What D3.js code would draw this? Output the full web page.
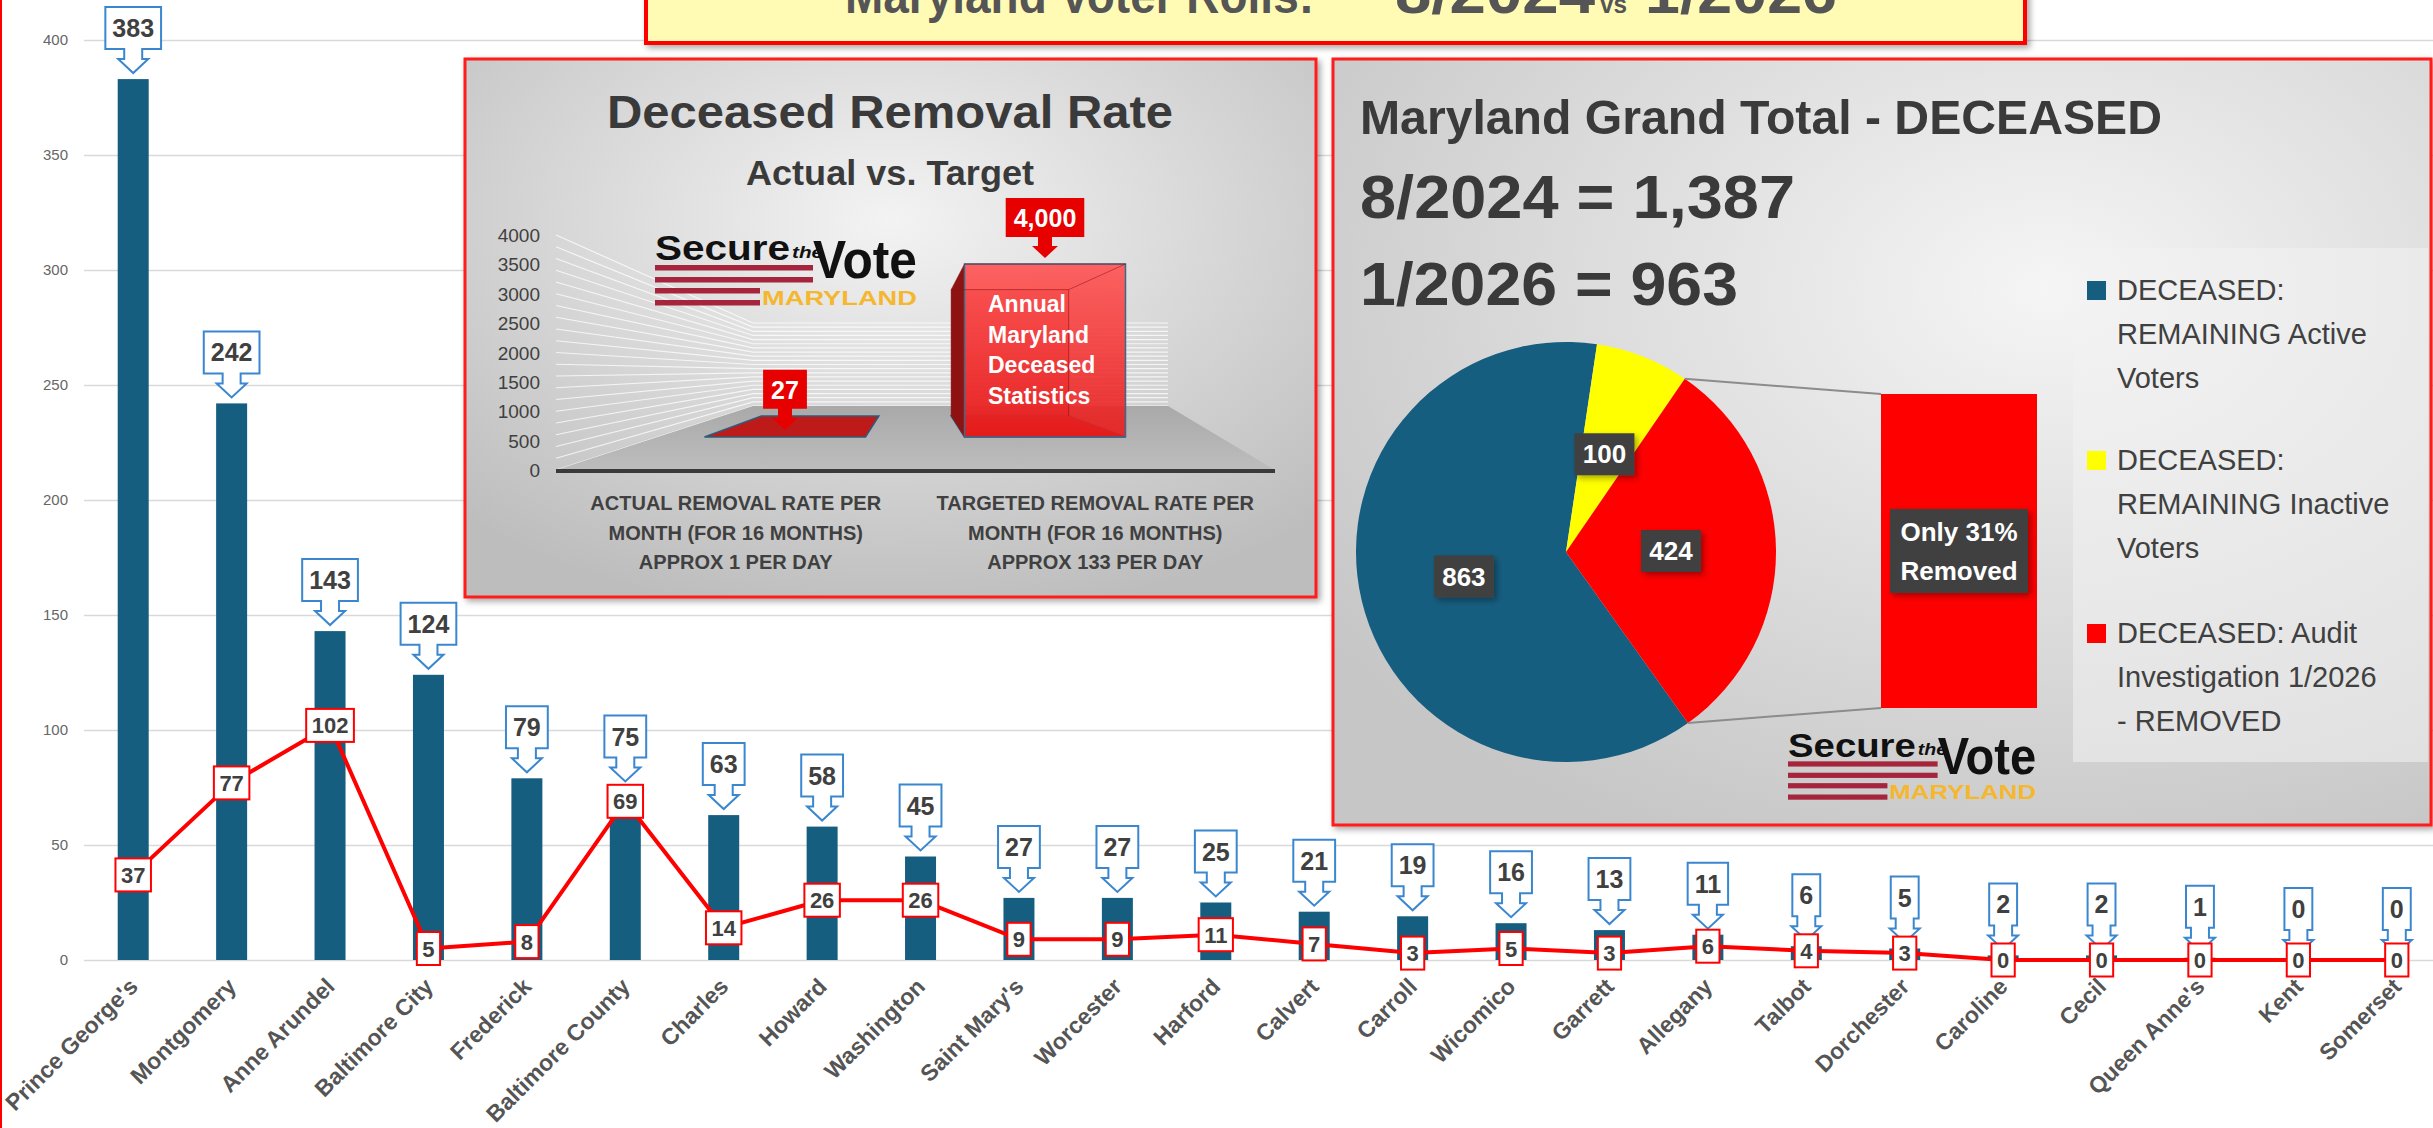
<!DOCTYPE html>
<meta charset="utf-8">
<style>
  body { margin: 0; background: #fff; }
  svg { display: block; font-family: "Liberation Sans", Arial, sans-serif; }
</style>
<body>
<script src="https://d3js.org/d3.v7.min.js"></script>
<script>
var counties = ["Prince George's", "Montgomery", "Anne Arundel", "Baltimore City", "Frederick",
  "Baltimore County", "Charles", "Howard", "Washington", "Saint Mary's", "Worcester", "Harford",
  "Calvert", "Carroll", "Wicomico", "Garrett", "Allegany", "Talbot", "Dorchester", "Caroline",
  "Cecil", "Queen Anne's", "Kent", "Somerset"];
var deceased2024 = [383, 242, 143, 124, 79, 75, 63, 58, 45, 27, 27, 25, 21, 19, 16, 13, 11, 6, 5, 2, 2, 1, 0, 0];
var remaining2026 = [37, 77, 102, 5, 8, 69, 14, 26, 26, 9, 9, 11, 7, 3, 5, 3, 6, 4, 3, 0, 0, 0, 0, 0];
var yTicks = [0, 50, 100, 150, 200, 250, 300, 350, 400];

var rateCategories = ["ACTUAL", "TARGET"];
var rateLabels = [["ACTUAL REMOVAL RATE PER", "MONTH (FOR 16 MONTHS)", "APPROX 1 PER DAY"],
                  ["TARGETED REMOVAL RATE PER", "MONTH (FOR 16 MONTHS)", "APPROX 133 PER DAY"]];
var rateValues = [27, 4000];
var rateValueLabels = ["27", "4,000"];
var rateTicks = [0, 500, 1000, 1500, 2000, 2500, 3000, 3500, 4000];
var targetNote = ["Annual", "Maryland", "Deceased", "Statistics"];

var pieValues = [863, 100, 424];
var pieColors = ["#165e80", "#ffff00", "#ff0000"];
var pieLegend = [["DECEASED:", "REMAINING Active", "Voters"],
                 ["DECEASED:", "REMAINING Inactive", "Voters"],
                 ["DECEASED: Audit", "Investigation 1/2026", "- REMOVED"]];
var totalLines = ["Maryland Grand Total - DECEASED", "8/2024 = 1,387", "1/2026 = 963"];
var removedNote = ["Only 31%", "Removed"];

var W = 2433, H = 1128;
var svg = d3.select('body').append('svg').attr('width', W).attr('height', H);
var defs = svg.append('defs');

var gl = defs.append('radialGradient').attr('id', 'gradL').attr('cx', '50%').attr('cy', '30%').attr('r', '75%');
gl.append('stop').attr('offset', '0%').attr('stop-color', '#f3f3f3');
gl.append('stop').attr('offset', '100%').attr('stop-color', '#bdbdbd');
var gr = defs.append('radialGradient').attr('id', 'gradR').attr('cx', '65%').attr('cy', '30%').attr('r', '80%');
gr.append('stop').attr('offset', '0%').attr('stop-color', '#f5f5f5');
gr.append('stop').attr('offset', '100%').attr('stop-color', '#c6c6c6');
var gf = defs.append('linearGradient').attr('id', 'floor').attr('x1', 0).attr('x2', 0).attr('y1', 0).attr('y2', 1);
gf.append('stop').attr('offset', '0%').attr('stop-color', '#a9a9a9');
gf.append('stop').attr('offset', '100%').attr('stop-color', '#bdbdbd');
var gb = defs.append('linearGradient').attr('id', 'barRed').attr('x1', 0).attr('x2', 0).attr('y1', 0).attr('y2', 1);
gb.append('stop').attr('offset', '0%').attr('stop-color', '#ff5353');
gb.append('stop').attr('offset', '100%').attr('stop-color', '#e81b1b');
var sh = defs.append('filter').attr('id', 'shadow').attr('x', '-20%').attr('y', '-20%').attr('width', '150%').attr('height', '150%');
sh.append('feDropShadow').attr('dx', 3).attr('dy', 3).attr('stdDeviation', 3).attr('flood-color', '#000').attr('flood-opacity', 0.35);

// left chart border
svg.append('line').attr('x1', 1).attr('x2', 1).attr('y1', 0).attr('y2', H)
  .attr('stroke', '#ff0000').attr('stroke-width', 2);

// ---------- main bar + line chart ----------
var x = d3.scaleBand().domain(counties).range([84, 2446]);
var y = d3.scaleLinear().domain([0, 400]).range([960, 40]);
function cx(d) { return x(d) + x.bandwidth() / 2; }

var yAxis = svg.append('g').attr('transform', 'translate(84,0)')
  .call(d3.axisLeft(y).tickValues(yTicks).tickSize(-2360).tickPadding(16));
yAxis.select('.domain').remove();
yAxis.selectAll('line').attr('stroke', '#d9d9d9').attr('stroke-width', 1.5);
yAxis.selectAll('text').attr('fill', '#666').style('font-size', '15px')
  .style('font-family', '"Liberation Sans", Arial, sans-serif');

svg.append('g').selectAll('rect').data(counties).enter().append('rect')
  .attr('x', function(d) { return cx(d) - 15.5; })
  .attr('width', 31)
  .attr('y', function(d, i) { return y(deceased2024[i]); })
  .attr('height', function(d, i) { return y(0) - y(deceased2024[i]); })
  .attr('fill', '#165e80');

var line = d3.line()
  .x(function(d, i) { return cx(counties[i]); })
  .y(function(d) { return y(d); });
svg.append('path').datum(remaining2026).attr('d', line)
  .attr('fill', 'none').attr('stroke', '#ff0000').attr('stroke-width', 4).attr('stroke-linejoin', 'round');

// blue down-arrow callouts
var callouts = svg.append('g').selectAll('g').data(counties).enter().append('g');
callouts.each(function(d, i) {
  var g = d3.select(this);
  var c = cx(d), top = y(deceased2024[i]);
  var t = g.append('text').attr('x', c).attr('y', top - 42).attr('text-anchor', 'middle')
    .attr('font-size', 25).attr('font-weight', 'bold').attr('fill', '#404040')
    .text(deceased2024[i]);
  var w = t.node().getComputedTextLength() + 14;
  var p = 'M' + (c - w / 2) + ',' + (top - 72) + 'H' + (c + w / 2) + 'V' + (top - 30) +
    'H' + (c + 9) + 'V' + (top - 20) + 'H' + (c + 15) + 'L' + c + ',' + (top - 6) +
    'L' + (c - 15) + ',' + (top - 20) + 'H' + (c - 9) + 'V' + (top - 30) + 'H' + (c - w / 2) + 'Z';
  g.insert('path', 'text').attr('d', p).attr('fill', '#fff').attr('stroke', '#3a87cf').attr('stroke-width', 2);
});

// red value boxes on the line
var redLabels = svg.append('g').selectAll('g').data(counties).enter().append('g');
redLabels.each(function(d, i) {
  var g = d3.select(this);
  var c = cx(d), py = y(remaining2026[i]);
  var t = g.append('text').attr('x', c).attr('y', py + 8).attr('text-anchor', 'middle')
    .attr('font-size', 22).attr('font-weight', 'bold').attr('fill', '#404040')
    .text(remaining2026[i]);
  var w = t.node().getComputedTextLength() + 11;
  g.insert('rect', 'text').attr('x', c - w / 2).attr('y', py - 16.5).attr('width', w).attr('height', 33)
    .attr('fill', '#fff').attr('stroke', '#ff0000').attr('stroke-width', 2);
});

// rotated county labels
svg.append('g').selectAll('text').data(counties).enter().append('text')
  .attr('transform', function(d) { return 'translate(' + (cx(d) + 6) + ',988) rotate(-45)'; })
  .attr('text-anchor', 'end').attr('font-size', 23).attr('font-weight', 'bold').attr('fill', '#555')
  .text(function(d) { return d; });

// ---------- logo helper ----------
function logo(g) {
  g.append('text').attr('x', 0).attr('y', 26).attr('font-size', 35).attr('font-weight', 'bold').attr('fill', '#111')
    .attr('textLength', 135).attr('lengthAdjust', 'spacingAndGlyphs').text('Secure');
  g.append('text').attr('x', 137).attr('y', 24).attr('font-size', 17).attr('font-weight', 'bold').attr('font-style', 'italic')
    .attr('fill', '#111').attr('textLength', 31).attr('lengthAdjust', 'spacingAndGlyphs').text('the');
  g.append('text').attr('x', 158).attr('y', 44).attr('font-size', 54).attr('font-weight', 'bold').attr('fill', '#111')
    .attr('textLength', 104).attr('lengthAdjust', 'spacingAndGlyphs').text('Vote');
  [[31, 158], [43, 158], [54, 105], [66, 105]].forEach(function(s) {
    g.append('rect').attr('x', 0).attr('y', s[0]).attr('width', s[1]).attr('height', 5.5).attr('fill', '#a5263c');
  });
  g.append('text').attr('x', 107).attr('y', 71).attr('font-size', 21).attr('font-weight', 'bold').attr('fill', '#f4b72e')
    .attr('textLength', 155).attr('lengthAdjust', 'spacingAndGlyphs').text('MARYLAND');
}

// ---------- left inset: Deceased Removal Rate ----------
var L = svg.append('g');
L.append('rect').attr('x', 465).attr('y', 59).attr('width', 851).attr('height', 538)
  .attr('fill', 'url(#gradL)').attr('stroke', '#ff1a1a').attr('stroke-width', 3).attr('filter', 'url(#shadow)');
L.append('text').attr('x', 890).attr('y', 128).attr('text-anchor', 'middle').attr('font-size', 46)
  .attr('font-weight', 'bold').attr('fill', '#3a3a3a').attr('textLength', 566).attr('lengthAdjust', 'spacingAndGlyphs')
  .text('Deceased Removal Rate');
L.append('text').attr('x', 890).attr('y', 185).attr('text-anchor', 'middle').attr('font-size', 35)
  .attr('font-weight', 'bold').attr('fill', '#3a3a3a').attr('textLength', 288).attr('lengthAdjust', 'spacingAndGlyphs')
  .text('Actual vs. Target');

var yF = d3.scaleLinear().domain([0, 4000]).range([470, 235]);
var yB = d3.scaleLinear().domain([0, 4000]).range([406, 323]);
L.append('g').selectAll('path').data(yF.ticks(16)).enter().append('path')
  .attr('d', function(v) { return 'M556,' + yF(v) + 'L753,' + yB(v) + 'L1168,' + yB(v); })
  .attr('fill', 'none').attr('stroke', '#fff').attr('stroke-opacity', 0.75).attr('stroke-width', 1.2);
L.append('path').attr('d', 'M556,470L1275,470L1168,406L753,406Z').attr('fill', 'url(#floor)');
L.append('line').attr('x1', 556).attr('x2', 1275).attr('y1', 471).attr('y2', 471)
  .attr('stroke', '#3a3a3a').attr('stroke-width', 4);
L.append('g').selectAll('text').data(rateTicks).enter().append('text')
  .attr('x', 540).attr('y', function(d) { return yF(d) + 7; }).attr('text-anchor', 'end')
  .attr('font-size', 19).attr('fill', '#404040').text(function(d) { return d; });

var xCat = d3.scaleBand().domain(rateCategories).range([556, 1275]);
var xBar = d3.scaleBand().domain(rateCategories).range([655, 1175]);
var y3 = d3.scaleLinear().domain([0, 4000]).range([437, 264]);
function back(px, py) { return [915 + (px - 915) * 0.73, 359 + (py - 359) * 0.73]; }
function poly(pts) { return 'M' + pts.map(function(p) { return p[0] + ',' + p[1]; }).join('L') + 'Z'; }

rateCategories.forEach(function(c, i) {
  var fc = xBar(c) + xBar.bandwidth() / 2;
  var x0 = fc - 80.5, x1 = fc + 80.5, yb = y3(0), yt = y3(rateValues[i]);
  var g = L.append('g');
  g.append('path').attr('d', poly([[x0, yb], [x1, yb], back(x1, yb), back(x0, yb)]))
    .attr('fill', '#bf1a1a').attr('stroke', '#2f5c7a').attr('stroke-width', 1.5);
  if (rateValues[i] > 100) {
    g.append('path').attr('d', poly([back(x0, yt), back(x1, yt), back(x1, yb), back(x0, yb)]))
      .attr('fill', '#d42020').attr('fill-opacity', 0.6).attr('stroke', '#7a1010').attr('stroke-opacity', 0.5);
    g.append('path').attr('d', poly([[x0, yt], [x0, yb], back(x0, yb), back(x0, yt)]))
      .attr('fill', '#8e1212');
    g.append('rect').attr('x', x0).attr('y', yt).attr('width', x1 - x0).attr('height', yb - yt)
      .attr('fill', 'url(#barRed)').attr('fill-opacity', 0.9).attr('stroke', '#3a6a8a').attr('stroke-width', 1.5);
    g.append('path').attr('d', poly([back(x0, yt), back(x1, yt), [x1, yt], [x0, yt]]))
      .attr('fill', 'none').attr('stroke', '#8a1010').attr('stroke-opacity', 0.5);
    g.append('path').attr('d', 'M' + back(x1, yt) + 'L' + back(x1, yb))
      .attr('stroke', '#8a1010').attr('stroke-opacity', 0.5);
  }
  // red callout above bar
  var t = g.append('text').attr('x', fc).attr('y', yt - 37).attr('text-anchor', 'middle')
    .attr('font-size', 25).attr('font-weight', 'bold').attr('fill', '#fff').text(rateValueLabels[i]);
  var w = t.node().getComputedTextLength() + 16;
  var p = 'M' + (fc - w / 2) + ',' + (yt - 66) + 'H' + (fc + w / 2) + 'V' + (yt - 27) +
    'H' + (fc + 7) + 'V' + (yt - 18) + 'H' + (fc + 13) + 'L' + fc + ',' + (yt - 6) +
    'L' + (fc - 13) + ',' + (yt - 18) + 'H' + (fc - 7) + 'V' + (yt - 27) + 'H' + (fc - w / 2) + 'Z';
  g.insert('path', 'text').attr('d', p).attr('fill', '#e60000');
});

var note = L.append('text').attr('font-size', 23).attr('font-weight', 'bold').attr('fill', '#fff');
targetNote.forEach(function(s, i) {
  note.append('tspan').attr('x', 988).attr('y', 312 + i * 30.7).text(s);
});

rateCategories.forEach(function(c, i) {
  var t = L.append('text').attr('text-anchor', 'middle').attr('font-size', 20).attr('font-weight', 'bold').attr('fill', '#404040');
  rateLabels[i].forEach(function(s, j) {
    t.append('tspan').attr('x', xCat(c) + xCat.bandwidth() / 2).attr('y', 510 + j * 29.5).text(s);
  });
});
logo(L.append('g').attr('transform', 'translate(655,234)'));

// ---------- right inset: Grand Total pie ----------
var R = svg.append('g');
R.append('rect').attr('x', 1333).attr('y', 59).attr('width', 1098).attr('height', 766)
  .attr('fill', 'url(#gradR)').attr('stroke', '#ff1a1a').attr('stroke-width', 3).attr('filter', 'url(#shadow)');
var heads = [[134, 48, 802], [218, 62, 435], [305, 62, 378]];
totalLines.forEach(function(s, i) {
  R.append('text').attr('x', 1360).attr('y', heads[i][0]).attr('font-size', heads[i][1]).attr('font-weight', 'bold')
    .attr('fill', '#3a3a3a').attr('textLength', heads[i][2]).attr('lengthAdjust', 'spacingAndGlyphs').text(s);
});

var pcx = 1566, pcy = 552, pr = 210;
var a0 = 144.5 * Math.PI / 180;
var pie = d3.pie().sort(null).startAngle(a0).endAngle(a0 + 2 * Math.PI);
var arcs = pie(pieValues);
var arc = d3.arc().innerRadius(0).outerRadius(pr);
var pg = R.append('g').attr('transform', 'translate(' + pcx + ',' + pcy + ')');
pg.selectAll('path').data(arcs).enter().append('path').attr('d', arc)
  .attr('fill', function(d, i) { return pieColors[i]; });

// bar-of-pie connector
var red = arcs[2];
var barX = 1881, barY0 = 394, barY1 = 708;
var pA = [pcx + pr * Math.sin(red.startAngle), pcy - pr * Math.cos(red.startAngle)];
var pB = [pcx + pr * Math.sin(red.endAngle), pcy - pr * Math.cos(red.endAngle)];
R.append('line').attr('x1', pA[0]).attr('y1', pA[1]).attr('x2', barX).attr('y2', barY0).attr('stroke', '#8c8c8c').attr('stroke-width', 2);
R.append('line').attr('x1', pB[0]).attr('y1', pB[1]).attr('x2', barX).attr('y2', barY1).attr('stroke', '#8c8c8c').attr('stroke-width', 2);
R.append('rect').attr('x', barX).attr('y', barY0).attr('width', 156).attr('height', barY1 - barY0).attr('fill', '#ff0000');

function darkLabel(g, px, py, lines, w, h) {
  g.append('rect').attr('x', px - w / 2).attr('y', py - h / 2).attr('width', w).attr('height', h)
    .attr('fill', '#404040').attr('filter', 'url(#shadow)');
  lines.forEach(function(s, i) {
    g.append('text').attr('x', px).attr('y', py + 9 + (i - (lines.length - 1) / 2) * 39).attr('text-anchor', 'middle')
      .attr('font-size', 26).attr('font-weight', 'bold').attr('fill', '#fff').text(s);
  });
}
arcs.forEach(function(d) {
  var c = arc.centroid(d);
  darkLabel(R, pcx + c[0], pcy + c[1], [String(d.value)], 60, 42);
});
darkLabel(R, barX + 78, (barY0 + barY1) / 2, removedNote, 138, 84);

// legend
R.append('rect').attr('x', 2073).attr('y', 248).attr('width', 355).attr('height', 514)
  .attr('fill', '#f2f2f2').attr('fill-opacity', 0.55);
var legTop = [300, 470, 643];
pieLegend.forEach(function(lines, i) {
  R.append('rect').attr('x', 2087).attr('y', legTop[i] - 19).attr('width', 19).attr('height', 19).attr('fill', pieColors[i]);
  var t = R.append('text').attr('font-size', 29).attr('fill', '#404040');
  lines.forEach(function(s, j) {
    t.append('tspan').attr('x', 2117).attr('y', legTop[i] + j * 44).text(s);
  });
});
logo(R.append('g').attr('transform', 'translate(1788,732) scale(0.947)'));

// ---------- title banner ----------
var T = svg.append('g');
T.append('rect').attr('x', 646).attr('y', -20).attr('width', 1379).attr('height', 63)
  .attr('fill', '#fffbb5').attr('stroke', '#ff0000').attr('stroke-width', 4).attr('filter', 'url(#shadow)');
var titleParts = [[845, 50, 469, 'Maryland Voter Rolls:'], [1395, 60, 200, '8/2024'], [1600, 26, 27, 'vs'], [1645, 60, 192, '1/2026']];
titleParts.forEach(function(p) {
  T.append('text').attr('x', p[0]).attr('y', 13).attr('font-size', p[1]).attr('font-weight', 'bold').attr('fill', '#555')
    .attr('textLength', p[2]).attr('lengthAdjust', 'spacingAndGlyphs').text(p[3]);
});
</script>
</body>
